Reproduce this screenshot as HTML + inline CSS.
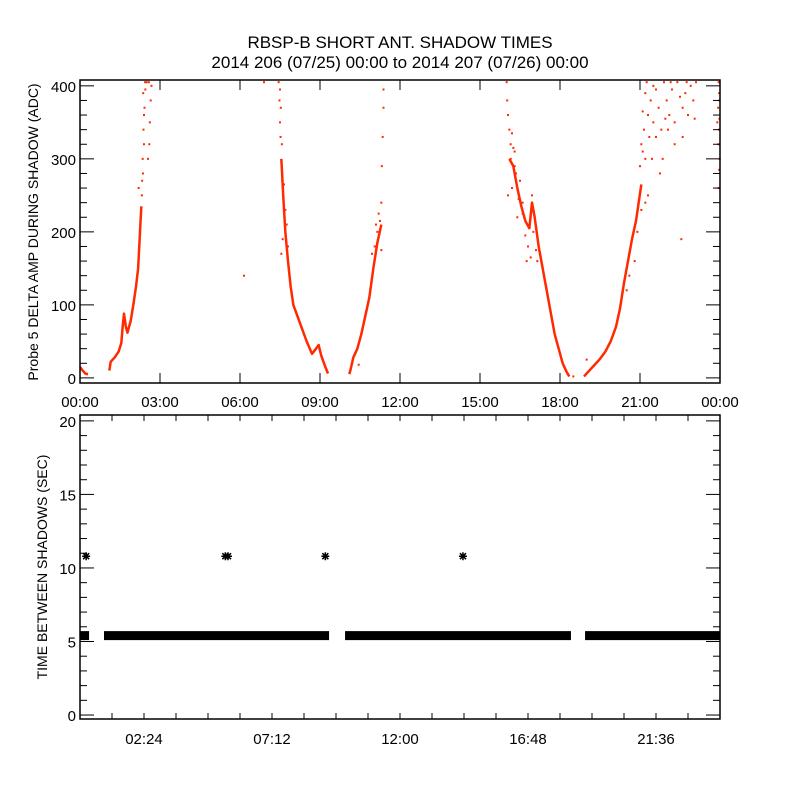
<!DOCTYPE html>
<html><head><meta charset="utf-8">
<style>
html,body{margin:0;padding:0;background:#fff;}
svg{display:block;font-family:"Liberation Sans",sans-serif;}
text{fill:#000;}
</style></head>
<body>
<svg id="chart" width="800" height="800" viewBox="0 0 800 800">
<rect width="800" height="800" fill="#fff"/>
<text x="400" y="48" font-size="17" text-anchor="middle">RBSP-B SHORT ANT. SHADOW TIMES</text>
<text x="400" y="68" font-size="17" text-anchor="middle">2014 206 (07/25) 00:00 to 2014 207 (07/26) 00:00</text>
<g id="topPanel"></g>
<g id="botPanel"></g>
</svg>
<script>
// ---- top panel data (hours, ADC) ----
const topTickLabels = ["00:00","03:00","06:00","09:00","12:00","15:00","18:00","21:00","00:00"];
const topYTicks = [0,100,200,300,400];
const curveA = [[0,15],[0.1,10],[0.2,6],[0.3,5]];
const curveB = [[1.1,10],[1.15,22],[1.3,28],[1.45,36],[1.55,48],[1.6,70],[1.65,88],[1.72,70],[1.78,62],[1.9,78],[2.0,100],[2.1,125],[2.18,150],[2.25,200],[2.3,235]];
const curveC = [[7.55,300],[7.62,250],[7.7,200],[7.8,160],[7.9,125],[8.0,100],[8.15,85],[8.3,70],[8.5,50],[8.7,33],[8.85,40],[8.95,45],[9.05,30],[9.2,15],[9.3,6]];
const curveD = [[10.1,5],[10.15,12],[10.25,28],[10.4,40],[10.55,60],[10.7,85],[10.85,110],[11.0,150],[11.15,185],[11.3,210]];
const curveE = [[16.1,300],[16.25,290],[16.4,260],[16.55,235],[16.7,215],[16.85,205],[16.95,240],[17.05,220],[17.2,180],[17.35,150],[17.5,120],[17.65,90],[17.8,60],[17.95,40],[18.1,20],[18.25,8],[18.35,2]];
const curveF = [[18.9,2],[19.1,10],[19.3,18],[19.5,26],[19.7,36],[19.9,50],[20.1,70],[20.25,95],[20.4,130],[20.55,160],[20.7,190],[20.85,215],[20.95,240],[21.05,265]];
const scatterPts = [[2.35,300],[2.38,340],[2.42,370],[2.45,395],[2.5,405],[2.2,260],[2.4,320],[2.6,320],[2.62,350],[2.65,380],[2.68,400],[2.55,300],[2.58,405],[2.32,250],[2.36,280],[2.33,270],[2.44,405],[2.4,360],[2.37,390],
[6.15,140],[6.9,405],[7.45,405],[7.48,380],[7.5,350],[7.52,330],[7.58,280],[7.65,265],[7.7,230],[7.75,210],[7.6,190],[7.8,180],[7.55,170],[7.5,395],[7.53,370],[7.57,320],
[11.3,240],[11.32,290],[11.35,330],[11.38,370],[11.38,395],[11.1,210],[11.2,225],[11.05,180],[10.95,170],[11.3,175],[10.45,18],[11.25,215],[11.15,200],
[16.0,405],[16.02,380],[16.05,360],[16.1,340],[16.15,320],[16.2,335],[16.3,310],[16.35,280],[16.2,260],[16.05,250],[16.5,270],[16.6,240],[16.4,220],[16.7,195],[16.8,180],[16.9,165],[16.75,160],[17.0,200],[17.1,175],[17.15,160],[16.9,220],[16.95,250],[16.15,300],[16.25,315],[16.3,290],[16.45,245],[16.6,225],
[18.5,2],[19.0,25],[20.6,140],[20.5,120],[20.8,160],[20.9,200],[21.05,230],[21.0,290],[21.1,310],[21.15,340],[21.2,300],[21.05,320],[21.1,365],[21.2,390],[21.25,405],[21.3,360],[21.35,330],[21.4,380],[21.5,350],[21.6,395],[21.7,370],[21.8,340],[21.9,405],[22.0,380],[22.1,360],[22.2,395],[22.3,350],[22.4,405],[22.5,385],[22.6,370],[22.7,390],[22.8,360],[22.9,400],[23.0,380],[23.1,405],[21.45,300],[21.6,330],[21.75,280],[21.85,300],[22.05,340],[22.3,320],[22.6,330],[21.5,400],[21.95,355],[22.15,405],[22.75,405],[23.05,355],[22.55,190],[21.3,250],[21.2,240],
[23.95,405],[23.97,390],[23.93,370],[23.98,355],[23.96,340],[23.94,320],[23.99,300],[23.97,285],[23.95,260],[23.98,380],[23.9,350]];
// ---- bottom panel data ----
const botTickLabels = ["02:24","07:12","12:00","16:48","21:36"];
const botTickHours = [2.4,7.2,12.0,16.8,21.6];
const botYTicks = [0,5,10,15,20];
const bandRuns = [[0,0.34],[0.9,9.34],[9.94,18.41],[18.94,24]];
const bandValue = 5.4;
const starHours = [0.23,5.45,5.55,9.2,14.36];
const starValues = [10.8,10.8,10.8,10.8,10.8];

const NS="http://www.w3.org/2000/svg";
function mk(tag,attrs,parent){const e=document.createElementNS(NS,tag);for(const k in attrs)e.setAttribute(k,attrs[k]);parent.appendChild(e);return e;}

// top axes
const T={l:80,r:720,t:80,b:383,ymin:-7,ymax:408};
const tx=h=>T.l+h/24*(T.r-T.l);
const ty=v=>T.b-(v-T.ymin)/(T.ymax-T.ymin)*(T.b-T.t);
const topG=document.getElementById('topPanel');
const RED="#ff2a00";
[curveA,curveB,curveC,curveD,curveE,curveF].forEach((c,i)=>{
  const pl=mk('polyline',{points:c.map(p=>tx(p[0])+','+ty(p[1])).join(' '),fill:'none',stroke:RED,'stroke-width':2.5,'stroke-linejoin':'round'},topG);
  
  
});
scatterPts.forEach(p=>{
  const r=mk('rect',{x:tx(p[0])-1,y:ty(p[1])-1,width:2,height:2,fill:RED},topG);
  
  
});
mk('rect',{x:T.l,y:T.t,width:T.r-T.l,height:T.b-T.t,fill:'none',stroke:'#000','stroke-width':1.5},topG);
for(let v=0;v<=400;v+=20){
  const len=(v%100===0)?14:7;
  mk('line',{x1:T.l,x2:T.l+len,y1:ty(v),y2:ty(v),stroke:'#000'},topG);
  mk('line',{x1:T.r,x2:T.r-len,y1:ty(v),y2:ty(v),stroke:'#000'},topG);
}
topYTicks.forEach(v=>{
  const t=mk('text',{x:T.l-4,y:ty(v)+6,'font-size':15,'text-anchor':'end'},topG);t.textContent=v;
  
  
});
topTickLabels.forEach((s,i)=>{
  const x=tx(i*3);
  mk('line',{x1:x,x2:x,y1:T.b,y2:T.b-10,stroke:'#000'},topG);
  mk('line',{x1:x,x2:x,y1:T.t,y2:T.t+10,stroke:'#000'},topG);
  const t=mk('text',{x:x,y:407,'font-size':15,'text-anchor':'middle'},topG);t.textContent=s;
  
  
});
const yt=mk('text',{x:0,y:0,'font-size':14,'text-anchor':'middle',transform:'translate(38,232) rotate(-90)'},topG);
yt.textContent='Probe 5 DELTA AMP DURING SHADOW (ADC)';



// bottom axes
const B={l:80,r:720,t:415,b:719,ymin:-0.27,ymax:20.4};
const bx=h=>B.l+h/24*(B.r-B.l);
const by=v=>B.b-(v-B.ymin)/(B.ymax-B.ymin)*(B.b-B.t);
const botG=document.getElementById('botPanel');
bandRuns.forEach(r=>{
  const e=mk('rect',{x:bx(r[0]),y:by(bandValue)-4.5,width:bx(r[1])-bx(r[0]),height:9,fill:'#000'},botG);
  
  
});
starHours.forEach((h,i)=>{
  const cx=bx(h), cy=by(starValues[i]);
  const d=`M${cx-4},${cy}H${cx+4}M${cx},${cy-4}V${cy+4}M${cx-3},${cy-3}L${cx+3},${cy+3}M${cx-3},${cy+3}L${cx+3},${cy-3}`;
  const s=mk('path',{d:d,stroke:'#000','stroke-width':1.5,fill:'none'},botG);
  
  
});
mk('rect',{x:B.l,y:B.t,width:B.r-B.l,height:B.b-B.t,fill:'none',stroke:'#000','stroke-width':1.5},botG);
for(let v=0;v<=20;v+=1){
  const len=(v%5===0)?14:7;
  mk('line',{x1:B.l,x2:B.l+len,y1:by(v),y2:by(v),stroke:'#000'},botG);
  mk('line',{x1:B.r,x2:B.r-len,y1:by(v),y2:by(v),stroke:'#000'},botG);
}
botYTicks.forEach(v=>{
  const t=mk('text',{x:B.l-4,y:by(v)+6,'font-size':15,'text-anchor':'end'},botG);t.textContent=v;
  
  
});
for(let k=1;k<20;k++){
  const x=bx(k*1.2);
  mk('line',{x1:x,x2:x,y1:B.b,y2:B.b-6,stroke:'#000'},botG);
  mk('line',{x1:x,x2:x,y1:B.t,y2:B.t+6,stroke:'#000'},botG);
}
botTickHours.forEach((h,i)=>{
  const t=mk('text',{x:bx(h),y:744,'font-size':15,'text-anchor':'middle'},botG);t.textContent=botTickLabels[i];
  
  
});
const yt2=mk('text',{x:0,y:0,'font-size':14,'text-anchor':'middle',transform:'translate(47,567) rotate(-90)'},botG);
yt2.textContent='TIME BETWEEN SHADOWS (SEC)';


</script>
</body></html>
